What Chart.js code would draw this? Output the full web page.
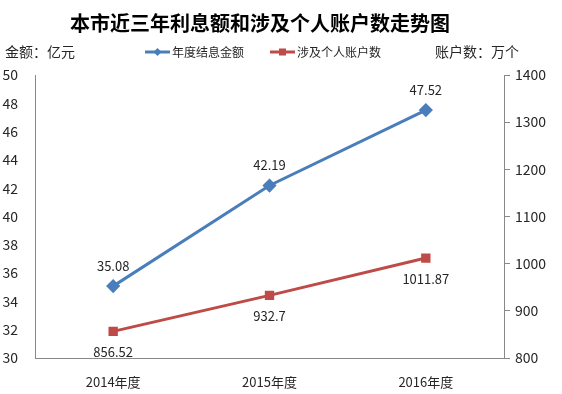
<!DOCTYPE html>
<html><head><meta charset="utf-8">
<script src="https://cdn.jsdelivr.net/npm/chart.js@4/dist/chart.umd.min.js"></script>
<style>html,body{margin:0;padding:0;background:#fff}#wrap{width:562px;height:394px}</style>
</head><body><div id="wrap"><canvas id="c" width="562" height="394"></canvas></div>
<script>
const categories = ["2014年度", "2015年度", "2016年度"];
const interestAmount = [35.08, 42.19, 47.52];
const accountCount = [856.52, 932.7, 1011.87];
const seriesNames = ["年度结息金额", "涉及个人账户数"];
const chartTitle = "本市近三年利息额和涉及个人账户数走势图";
const leftTitle = "金额：亿元";
const rightTitle = "账户数：万个";

const FONT = '"Noto Sans CJK SC", "Noto Sans", sans-serif';
const BLUE = '#4A7EBB', RED = '#BE4B48', TXT = '#262626', AX = '#888888';

const overlay = {
  id: 'overlay',
  afterDraw(chart) {
    const ctx = chart.ctx;
    ctx.save();
    ctx.fillStyle = '#000';
    ctx.font = 'bold 20px ' + FONT;
    ctx.textAlign = 'center'; ctx.textBaseline = 'middle';
    ctx.fillText(chartTitle, 260, 23);
    ctx.font = '14px ' + FONT; ctx.fillStyle = TXT;
    ctx.textAlign = 'left';
    ctx.fillText(leftTitle, 5, 52);
    ctx.textAlign = 'right';
    ctx.fillText(rightTitle, 519, 52);
    // legend
    const items = [{x: 145, c: BLUE, s: 'diamond'}, {x: 270, c: RED, s: 'square'}];
    ctx.font = '12px ' + FONT;
    items.forEach((it, i) => {
      ctx.strokeStyle = it.c; ctx.lineWidth = 3;
      ctx.beginPath(); ctx.moveTo(it.x, 52); ctx.lineTo(it.x + 25, 52); ctx.stroke();
      ctx.fillStyle = it.c;
      const cx = it.x + 12.5;
      if (it.s === 'diamond') {
        ctx.beginPath(); ctx.moveTo(cx, 48); ctx.lineTo(cx + 4, 52); ctx.lineTo(cx, 56); ctx.lineTo(cx - 4, 52); ctx.closePath(); ctx.fill();
      } else { ctx.fillRect(cx - 3.5, 48.5, 7, 7); }
      ctx.fillStyle = TXT; ctx.textAlign = 'left';
      ctx.fillText(chart.data.datasets[i].label, it.x + 27, 52);
    });
    // data labels
    ctx.font = '13px ' + FONT; ctx.textAlign = 'center'; ctx.fillStyle = TXT;
    chart.data.datasets.forEach((ds, di) => {
      const meta = chart.getDatasetMeta(di);
      meta.data.forEach((pt, j) => {
        const dy = di === 0 ? -20 : 21;
        ctx.fillText(String(ds.data[j]), pt.x, pt.y + dy);
      });
    });
    ctx.restore();
  }
};

new Chart(document.getElementById('c'), {
  type: 'line',
  data: {
    labels: categories,
    datasets: [
      {label: seriesNames[0], data: interestAmount, yAxisID: 'y', borderColor: BLUE, backgroundColor: BLUE,
       borderWidth: 3, pointStyle: 'rectRot', pointRadius: 5, tension: 0},
      {label: seriesNames[1], data: accountCount, yAxisID: 'y1', borderColor: RED, backgroundColor: RED,
       borderWidth: 3, pointStyle: 'rect', pointRadius: 4.5, tension: 0}
    ]
  },
  options: {
    responsive: false, animation: false, devicePixelRatio: 1,
    layout: {padding: {top: 75, left: 0, right: 0, bottom: 0}},
    plugins: {legend: {display: false}, title: {display: false}, tooltip: {enabled: false}},
    scales: {
      x: {offset: true, grid: {display: false}, border: {display: true, color: AX, width: 1},
          ticks: {color: TXT, font: {size: 13, family: FONT}, padding: 8},
          afterFit(s) { s.height = 36; }},
      y: {position: 'left', min: 30, max: 50, grid: {display: false}, border: {display: true, color: AX, width: 1},
          ticks: {stepSize: 2, color: TXT, font: {size: 14, family: FONT}, padding: 9,
                  callback: v => String(v)},
          afterFit(s) { s.width = 35; }},
      y1: {position: 'right', min: 800, max: 1400,
           grid: {display: true, drawOnChartArea: false, drawTicks: true, tickLength: 6, color: AX},
           border: {display: true, color: AX, width: 1},
           ticks: {stepSize: 100, color: TXT, font: {size: 14, family: FONT}, padding: 5,
                   callback: v => String(v)},
           afterFit(s) { s.width = 58; }}
    }
  },
  plugins: [overlay]
});
</script></body></html>
